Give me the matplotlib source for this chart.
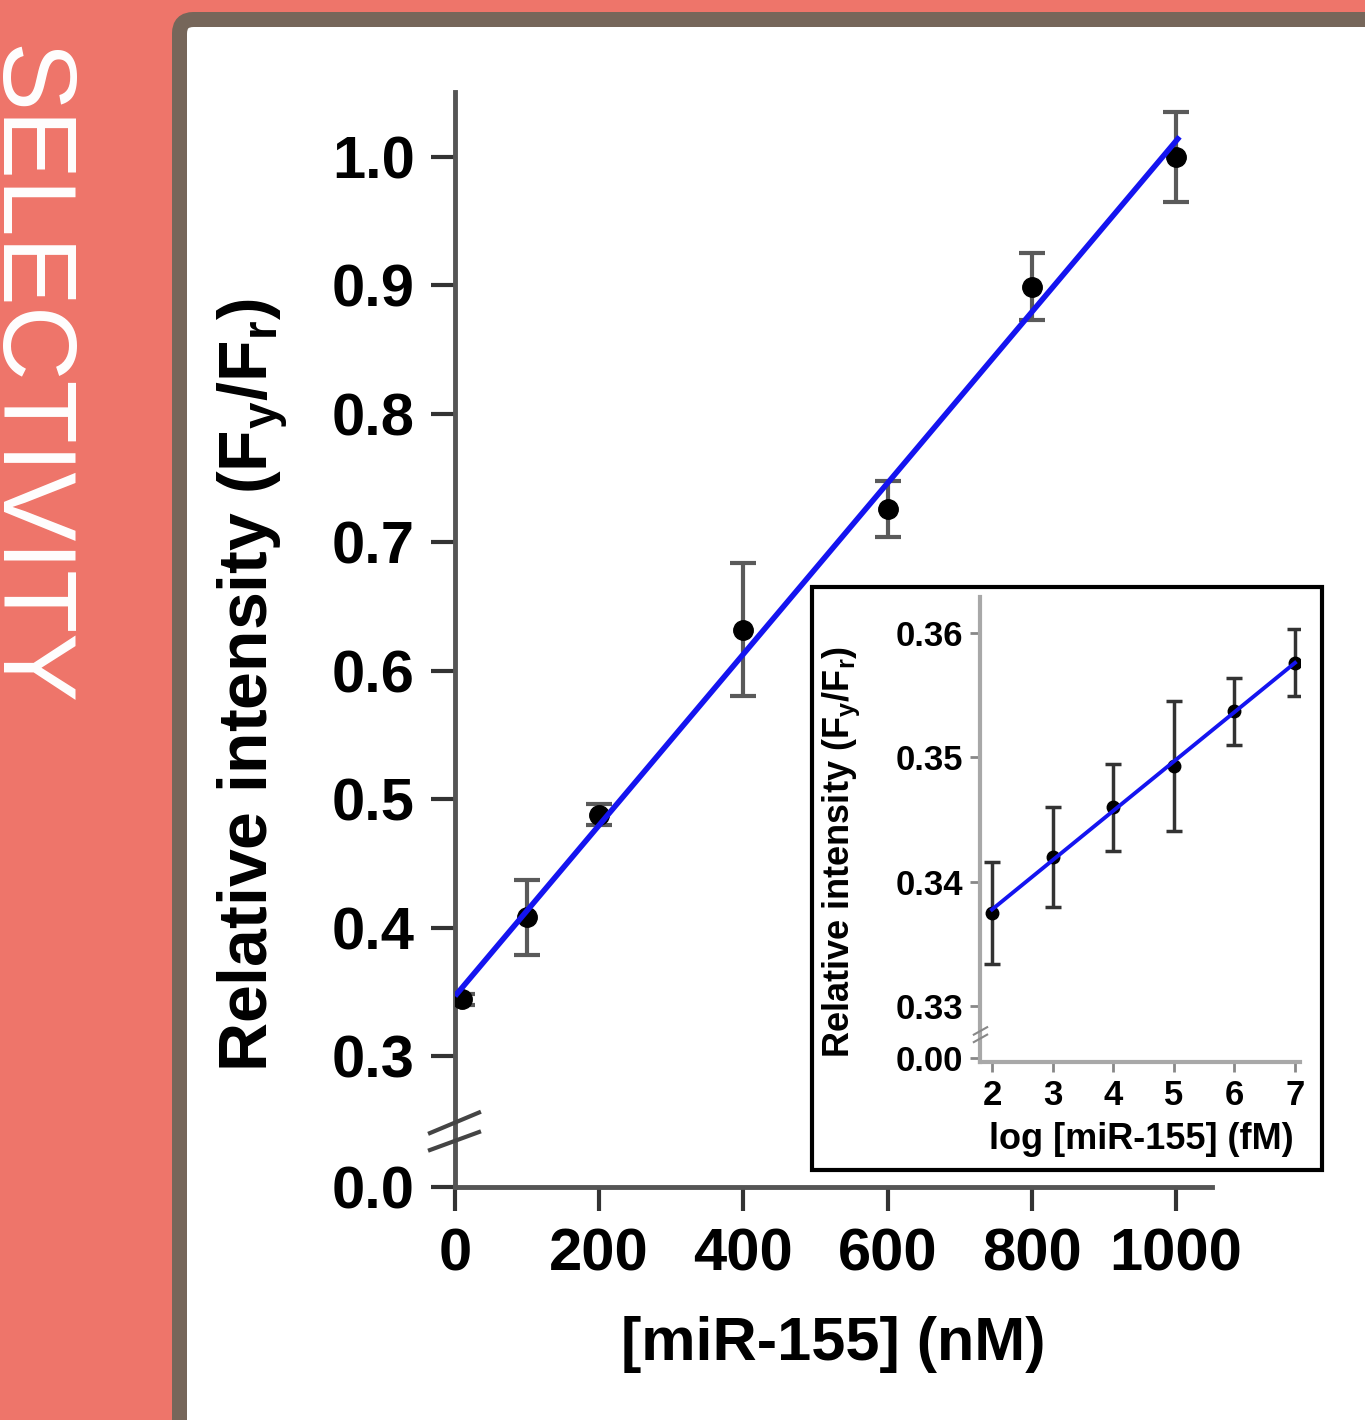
import numpy as np
import matplotlib.pyplot as plt
from matplotlib.patches import FancyBboxPatch, Rectangle

plt.rcParams['font.family'] = ['Liberation Sans', 'DejaVu Sans']
plt.rcParams['font.weight'] = 'bold'
plt.rcParams['axes.labelweight'] = 'bold'
plt.rcParams['mathtext.fontset'] = 'custom'
plt.rcParams['mathtext.rm'] = 'Liberation Sans:bold'
plt.rcParams['mathtext.default'] = 'rm'

# calibration, nM range
conc = [10, 100, 200, 400, 600, 800, 1000]
ratio = [0.344, 0.408, 0.488, 0.632, 0.726, 0.899, 1.000]
ratio_err = [0.004, 0.029, 0.008, 0.052, 0.022, 0.026, 0.035]
y_ticks = [0.3, 0.4, 0.5, 0.6, 0.7, 0.8, 0.9, 1.0]
x_ticks = [0, 200, 400, 600, 800, 1000]

# calibration, fM range (inset)
log_conc = [2, 3, 4, 5, 6, 7]
ratio_low = [0.3375, 0.3420, 0.3460, 0.3493, 0.3537, 0.3576]
ratio_low_err = [0.0041, 0.0040, 0.0035, 0.0052, 0.0027, 0.0027]
inset_y_ticks = [0.33, 0.34, 0.35, 0.36]
inset_x_ticks = [2, 3, 4, 5, 6, 7]

salmon = '#ee756a'
frame_col = '#76665a'
blue = '#1414f0'

W, H = 1365, 1420
fig = plt.figure(figsize=(W / 100, H / 100), dpi=100)
fig.patch.set_facecolor(salmon)

# white panel with brown rounded border
panel = FancyBboxPatch((1.795, -0.5), W / 100 - 1.795 + 0.5, H / 100 - 0.195 + 0.5,
                       boxstyle='round,pad=0,rounding_size=0.14',
                       transform=fig.dpi_scale_trans, facecolor='white',
                       edgecolor=frame_col, linewidth=10.8, zorder=-5)
fig.add_artist(panel)

fig.text(-2 / W, 1 - 45 / H, 'SELECTIVITY', rotation=-90, rotation_mode='anchor',
         ha='left', va='baseline', color='white', fontsize=74.5,
         family='Liberation Sans', fontweight='normal')

# ---- main plot ----
ax = fig.add_axes([455 / W, 1 - 1187 / H, 757 / W, 1095 / H], facecolor='none')
y_zero = 0.198  # where the "0.0" sits below the break
ax.set_xlim(0, 1050)
ax.set_ylim(y_zero, 1.0506)

ax.errorbar(conc, ratio, yerr=ratio_err, fmt='o', color='black', ms=14,
            ecolor='#5a5a5a', elinewidth=3, capsize=9.5, capthick=3, zorder=3)
fit = np.polyfit(conc, ratio, 1)
xx = np.array([0, 1005])
ax.plot(xx, np.polyval(fit, xx), color=blue, lw=4, zorder=4, solid_capstyle='butt')

for s in ['top', 'right']:
    ax.spines[s].set_visible(False)
for s in ['left', 'bottom']:
    ax.spines[s].set_linewidth(3.5)
    ax.spines[s].set_color('#555555')

ax.set_xticks(x_ticks)
ax.set_xticklabels([str(v) for v in x_ticks])
ax.set_yticks([y_zero] + y_ticks)
ax.set_yticklabels(['0.0'] + ['%.1f' % v for v in y_ticks])
ax.tick_params(direction='out', length=17, width=3, color='#333333',
               labelsize=43, pad=12)

ax.set_ylabel(r'Relative intensity (F$_{y}$/F$_{r}$)', fontsize=49)
ax.yaxis.set_label_coords(-0.218, 0.458)
ax.set_xlabel('[miR-155] (nM)', fontsize=44)
ax.xaxis.set_label_coords(0.5, -0.118)

# break marks on the y axis
for y0, y1 in [(0.240, 0.256), (0.2268, 0.2408)]:
    ax.plot([-34.7, 33.3], [y0, y1], color='#444444', lw=3, clip_on=False, zorder=5)

# ---- inset ----
box = Rectangle((812 / W, 1 - 1170 / H), 510 / W, 583 / H, transform=fig.transFigure,
                facecolor='white', edgecolor='black', linewidth=3, zorder=1)
fig.add_artist(box)

ins = fig.add_axes([980 / W, 1 - 1062 / H, 320 / W, 465 / H], facecolor='none', zorder=2)
iy_zero = 0.32582
ins.set_xlim(1.802, 7.083)
ins.set_ylim(0.3255, 0.3629)

ins.errorbar(log_conc, ratio_low, yerr=ratio_low_err, fmt='o', color='black', ms=9,
             ecolor='#333333', elinewidth=2.5, capsize=6, capthick=2.5, zorder=3)
fit2 = np.polyfit(log_conc, ratio_low, 1)
xx2 = np.array([2, 7])
ins.plot(xx2, np.polyval(fit2, xx2), color=blue, lw=2.8, zorder=4)

for s in ['top', 'right']:
    ins.spines[s].set_visible(False)
for s in ['left', 'bottom']:
    ins.spines[s].set_linewidth(3)
    ins.spines[s].set_color('#a8a8a8')

ins.set_xticks(inset_x_ticks)
ins.set_xticklabels([str(v) for v in inset_x_ticks])
ins.set_yticks([iy_zero] + inset_y_ticks)
ins.set_yticklabels(['0.00'] + ['%.2f' % v for v in inset_y_ticks])
ins.tick_params(direction='out', length=7, width=2, color='#888888',
                labelsize=25, pad=5)

ins.set_ylabel(r'Relative intensity (F$_{y}$/F$_{r}$)', fontsize=26)
ins.yaxis.set_label_coords(-0.369, 0.452)
ins.set_xlabel('log [miR-155] (fM)', fontsize=26)
ins.xaxis.set_label_coords(0.503, -0.129)

for y0, y1 in [(0.3271, 0.3277), (0.3277, 0.3283)]:
    ins.plot([1.70, 1.92], [y0, y1], color='#888888', lw=1.5, clip_on=False, zorder=5)

fig.savefig('out.png', dpi=100, facecolor=fig.get_facecolor())
